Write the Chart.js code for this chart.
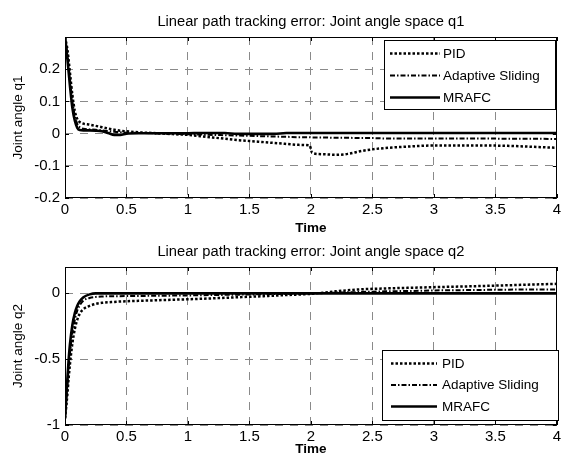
<!DOCTYPE html>
<html>
<head>
<meta charset="utf-8">
<script src="https://cdn.jsdelivr.net/npm/chart.js@4.4.1/dist/chart.umd.min.js"></script>
<style>
  html, body { margin: 0; padding: 0; background: #fff; }
  #wrap { position: relative; width: 564px; height: 463px; }
  #wrap canvas { position: absolute; left: 0; top: 0; }
</style>
</head>
<body>
<div id="wrap">
  <canvas id="c1" width="564" height="463"></canvas>
  <canvas id="c2" width="564" height="463"></canvas>
</div>
<script>
// ---- data ----
const seriesNames = ['PID', 'Adaptive Sliding', 'MRAFC'];
const timeTicks = [0, 0.5, 1, 1.5, 2, 2.5, 3, 3.5, 4];
const q1Ticks = [-0.2, -0.1, 0, 0.1, 0.2];
const q2Ticks = [-1, -0.5, 0];

// joint 1 tracking error
const t1 = [0, 0.02, 0.04, 0.06, 0.08, 0.1, 0.12, 0.15, 0.2, 0.25, 0.3, 0.35, 0.4, 0.45, 0.5,
            0.6, 0.7, 0.8, 0.9, 1.0, 1.1, 1.2, 1.3, 1.4, 1.5, 1.6, 1.7, 1.8, 1.9, 1.99, 2.01,
            2.1, 2.2, 2.3, 2.4, 2.5, 2.6, 2.8, 3.0, 3.2, 3.4, 3.6, 3.8, 4.0];
const q1PID = [0.3, 0.26, 0.19, 0.12, 0.07, 0.045, 0.036, 0.031, 0.028, 0.024, 0.02, 0.016, 0.012, 0.009, 0.007,
               0.004, 0.002, 0.0, -0.002, -0.004, -0.008, -0.012, -0.016, -0.02, -0.023, -0.026, -0.029, -0.032, -0.035, -0.037, -0.06,
               -0.064, -0.066, -0.063, -0.055, -0.049, -0.045, -0.04, -0.037, -0.037, -0.037, -0.038, -0.041, -0.044];
const q1Adaptive = [0.3, 0.245, 0.17, 0.1, 0.055, 0.03, 0.02, 0.015, 0.013, 0.012, 0.01, 0.008, 0.006, 0.004, 0.003,
                    0.002, 0.001, 0.0, -0.001, -0.002, -0.003, -0.004, -0.005, -0.006, -0.007, -0.008, -0.009, -0.01, -0.011, -0.011, -0.012,
                    -0.012, -0.013, -0.013, -0.014, -0.014, -0.015, -0.015, -0.015, -0.015, -0.015, -0.016, -0.016, -0.017];
const q1MRAFC = [0.3, 0.23, 0.15, 0.08, 0.04, 0.018, 0.011, 0.01, 0.01, 0.009, 0.007, 0.002, -0.004, -0.004, 0.0,
                 0.001, 0.001, 0.001, 0.001, 0.001, 0.002, 0.002, 0.002, -0.001, -0.001, -0.001, -0.001, 0.002, 0.002, 0.002, 0.002,
                 0.002, 0.002, 0.002, 0.002, 0.002, 0.002, 0.002, 0.002, 0.002, 0.002, 0.002, 0.002, 0.002];

// joint 2 tracking error
const t2 = [0, 0.01, 0.02, 0.03, 0.04, 0.06, 0.08, 0.1, 0.12, 0.15, 0.2, 0.25, 0.3, 0.4, 0.5, 0.6, 0.8,
            1.0, 1.2, 1.4, 1.6, 1.8, 2.0, 2.1, 2.2, 2.4, 2.6, 2.8, 3.0, 3.2, 3.4, 3.6, 3.8, 4.0];
const q2PID = [-0.95, -0.86, -0.76, -0.64, -0.54, -0.38, -0.27, -0.2, -0.155, -0.12, -0.095, -0.08, -0.072, -0.065, -0.06, -0.057, -0.051,
               -0.045, -0.038, -0.03, -0.022, -0.013, -0.004, 0.005, 0.015, 0.03, 0.037, 0.042, 0.047, 0.051, 0.056, 0.061, 0.067, 0.072];
const q2Adaptive = [-0.95, -0.83, -0.69, -0.56, -0.46, -0.3, -0.2, -0.13, -0.09, -0.055, -0.035, -0.027, -0.024, -0.022, -0.021, -0.02, -0.018,
                    -0.016, -0.013, -0.01, -0.007, -0.004, -0.001, 0.002, 0.005, 0.01, 0.015, 0.018, 0.022, 0.024, 0.026, 0.028, 0.029, 0.03];
const q2MRAFC = [-0.95, -0.8, -0.64, -0.5, -0.39, -0.24, -0.15, -0.095, -0.06, -0.03, -0.008, 0, 0, 0, 0, 0, 0,
                 0, 0, 0, 0, 0, 0, 0, 0, 0, 0, 0, 0, 0, 0, 0, 0, 0];

// ---- styling ----
const FONT = "'Liberation Sans', Arial, Helvetica, sans-serif";
const lineStyles = [
  { dash: [2.5, 2], width: 2.5 },        // dotted
  { dash: [5, 2, 1.5, 2], width: 2 },    // dash-dot
  { dash: [], width: 2.6 }               // solid
];

function pairs(xs, ys) { return xs.map((x, i) => ({ x: x, y: ys[i] })); }
function fmt(v) { return String(Math.round(v * 1000) / 1000); }

function makeDatasets(t, seriesList) {
  return seriesList.map((ys, i) => ({
    label: seriesNames[i],
    data: pairs(t, ys),
    borderColor: '#000',
    borderWidth: lineStyles[i].width,
    borderDash: lineStyles[i].dash,
    pointRadius: 0,
    fill: false,
    cubicInterpolationMode: 'monotone'
  }));
}

// frame, inner ticks, text labels and the boxed legend
const decorations = {
  id: 'decorations',
  afterDraw(chart, args, o) {
    const ctx = chart.ctx;
    const a = chart.chartArea;
    const xs = chart.scales.x, ys = chart.scales.y;
    ctx.save();
    // axes box
    ctx.strokeStyle = '#000';
    ctx.lineWidth = 1;
    ctx.setLineDash([]);
    ctx.strokeRect(Math.round(a.left) + 0.5, Math.round(a.top) + 0.5,
                   Math.round(a.right - a.left) - 1, Math.round(a.bottom - a.top) - 1);
    // inward tick marks
    const tl = 4;
    ctx.beginPath();
    timeTicks.forEach(v => {
      const px = Math.round(xs.getPixelForValue(v)) + 0.5;
      ctx.moveTo(px, a.bottom); ctx.lineTo(px, a.bottom - tl);
      ctx.moveTo(px, a.top); ctx.lineTo(px, a.top + tl);
    });
    o.yTicks.forEach(v => {
      const py = Math.round(ys.getPixelForValue(v)) + 0.5;
      ctx.moveTo(a.left, py); ctx.lineTo(a.left + tl, py);
      ctx.moveTo(a.right, py); ctx.lineTo(a.right - tl, py);
    });
    ctx.stroke();

    // title and axis labels
    ctx.fillStyle = '#000';
    ctx.textAlign = 'center';
    ctx.textBaseline = 'alphabetic';
    const cx = (a.left + a.right) / 2;
    ctx.font = '14.7px ' + FONT;
    ctx.fillText(o.title, cx, o.titleY);
    ctx.font = 'bold 13.5px ' + FONT;
    ctx.fillText('Time', cx, o.xLabelY);
    ctx.save();
    ctx.translate(o.yLabelX, (a.top + a.bottom) / 2);
    ctx.rotate(-Math.PI / 2);
    ctx.font = '13.5px ' + FONT;
    ctx.textBaseline = 'middle';
    ctx.fillText(o.yLabel, 0, 0);
    ctx.restore();

    // legend
    const L = o.legend;
    ctx.fillStyle = '#fff';
    ctx.fillRect(L.x, L.y, L.w, L.h);
    ctx.strokeStyle = '#000';
    ctx.lineWidth = 1;
    ctx.strokeRect(L.x + 0.5, L.y + 0.5, L.w - 1, L.h - 1);
    ctx.font = '13.5px ' + FONT;
    ctx.textAlign = 'left';
    ctx.textBaseline = 'middle';
    chart.data.datasets.forEach((ds, i) => {
      const yy = L.y + L.firstRow + i * L.rowGap;
      ctx.beginPath();
      ctx.setLineDash(ds.borderDash);
      ctx.lineWidth = ds.borderWidth;
      ctx.strokeStyle = '#000';
      ctx.moveTo(L.x + L.lineStart, yy);
      ctx.lineTo(L.x + L.lineEnd, yy);
      ctx.stroke();
      ctx.setLineDash([]);
      ctx.fillStyle = '#000';
      ctx.fillText(ds.label, L.x + L.textStart, yy + 0.5);
    });
    ctx.restore();
  }
};

function makeChart(id, t, seriesList, yMin, yMax, yTicks, pad, xAxisH, deco) {
  deco.yTicks = yTicks;
  return new Chart(document.getElementById(id), {
    type: 'line',
    data: { datasets: makeDatasets(t, seriesList) },
    options: {
      responsive: false,
      animation: false,
      devicePixelRatio: 1,
      layout: { padding: pad },
      plugins: { legend: { display: false }, tooltip: { enabled: false }, decorations: deco },
      scales: {
        x: {
          type: 'linear', min: 0, max: 4,
          afterBuildTicks: s => { s.ticks = timeTicks.map(v => ({ value: v })); },
          afterFit: s => { s.height = xAxisH; },
          ticks: { color: '#000', font: { family: FONT, size: 15 }, padding: 3, maxRotation: 0,
                   callback: v => fmt(v) },
          grid: { color: '#8a8a8a', lineWidth: 1, drawTicks: false },
          border: { display: false, dash: [8, 7] }
        },
        y: {
          type: 'linear', min: yMin, max: yMax,
          afterBuildTicks: s => { s.ticks = yTicks.map(v => ({ value: v })); },
          afterFit: s => { s.width = 65; },
          ticks: { color: '#000', font: { family: FONT, size: 15 }, padding: 5,
                   callback: v => fmt(v) },
          grid: { color: '#8a8a8a', lineWidth: 1, drawTicks: false },
          border: { display: false, dash: [8, 7] }
        }
      }
    },
    plugins: [decorations]
  });
}

makeChart('c1', t1, [q1PID, q1Adaptive, q1MRAFC], -0.2, 0.3, q1Ticks,
  { top: 37, right: 5, left: 0, bottom: 0 }, 463 - 198,
  { title: 'Linear path tracking error: Joint angle space q1', titleY: 25.5, xLabelY: 232,
    yLabel: 'Joint angle q1', yLabelX: 18,
    legend: { x: 384, y: 40, w: 172, h: 70, firstRow: 13.5, rowGap: 22, lineStart: 6, lineEnd: 56, textStart: 59 } });

makeChart('c2', t2, [q2PID, q2Adaptive, q2MRAFC], -1, 0.2, q2Ticks,
  { top: 267, right: 5, left: 0, bottom: 0 }, 463 - 425,
  { title: 'Linear path tracking error: Joint angle space q2', titleY: 255.5, xLabelY: 453,
    yLabel: 'Joint angle q2', yLabelX: 18,
    legend: { x: 382, y: 350, w: 177, h: 71, firstRow: 13.5, rowGap: 21.5, lineStart: 9, lineEnd: 55, textStart: 60 } });
</script>
</body>
</html>
